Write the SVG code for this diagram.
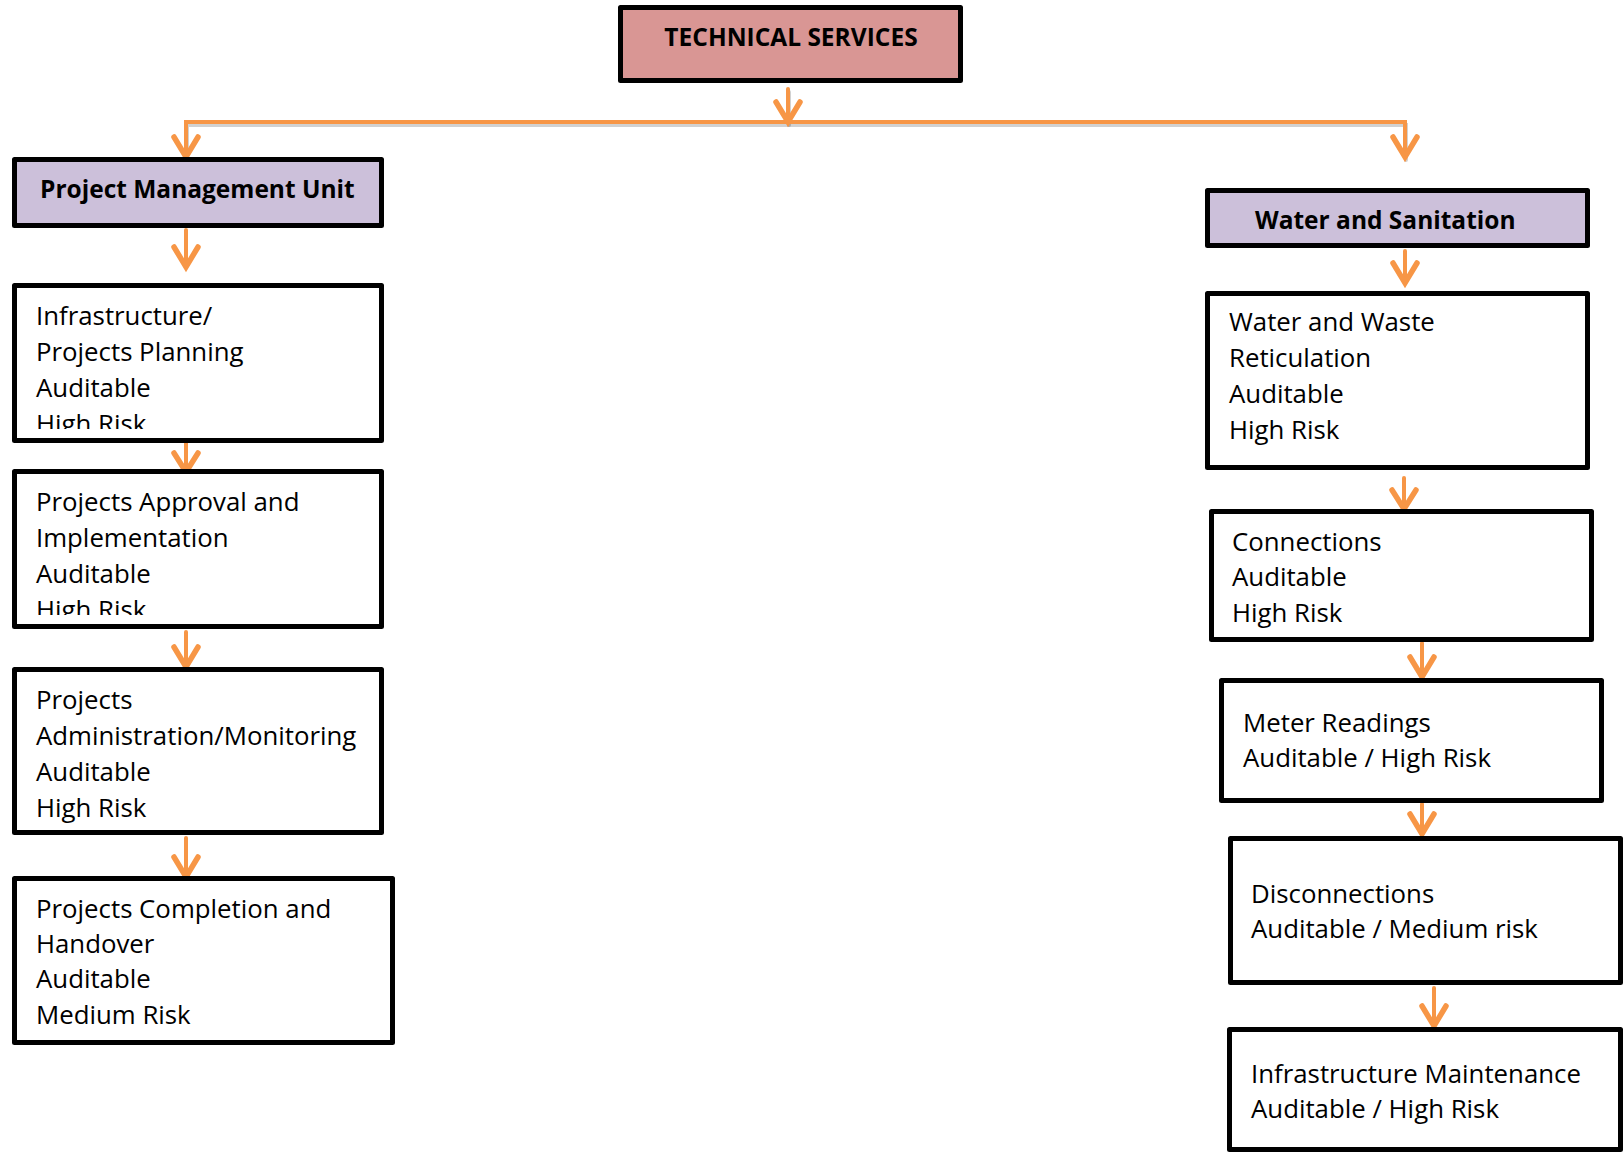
<svg xmlns="http://www.w3.org/2000/svg" width="1624" height="1152" viewBox="0 0 1624 1152">
<style>
.box{fill:#fff;stroke:#000;stroke-width:5;stroke-linejoin:round}
.head{fill:#CCC0DA;stroke:#000;stroke-width:5;stroke-linejoin:round}
.top{fill:#D99694;stroke:#000;stroke-width:5;stroke-linejoin:round}
.t{font-family:"Open Sans","Liberation Sans",sans-serif;font-size:25.8px;fill:#000}
.b{font-family:"Open Sans","Liberation Sans",sans-serif;font-size:24.5px;font-weight:bold;fill:#000}
.ln{fill:none;stroke:#F79646;stroke-width:4;stroke-linecap:round;stroke-linejoin:miter}
.ah{fill:none;stroke:#F79646;stroke-width:5.5;stroke-linecap:round;stroke-linejoin:miter}
.sh{fill:none;stroke:#000;stroke-opacity:0.18;stroke-width:4;stroke-linecap:round}
</style>
<defs>
<clipPath id="c1"><rect x="14" y="285" width="368" height="144"/></clipPath>
<clipPath id="c2"><rect x="14" y="471" width="368" height="144"/></clipPath>
</defs>
<g id="connectors">
<g transform="translate(1,3)">
<path class="sh" d="M186,157 V122 H1405 V157"/>
<path class="sh" d="M788,89 V122"/>
</g>
<path class="ln" d="M186,157 V122 H1405 V157"/>
<path class="ln" d="M788,89 V122"/>
<path class="ah" d="M776,102 L788,122 L800,102"/>
<path class="ah" d="M174,137 L186,157 L198,137"/>
<path class="ah" d="M1393,137 L1405,157 L1417,137"/>
<path class="ln" d="M186,230 V267"/><path class="ah" d="M174,247 L186,267 L198,247"/>
<path class="ln" d="M186,443 V472"/><path class="ah" d="M174,453 L186,472 L198,453"/>
<path class="ln" d="M186,632 V667"/><path class="ah" d="M174,647 L186,667 L198,647"/>
<path class="ln" d="M186,838 V877"/><path class="ah" d="M174,857 L186,877 L198,857"/>
<path class="ln" d="M1405,251 V283"/><path class="ah" d="M1393,263 L1405,283 L1417,263"/>
<path class="ln" d="M1404,478 V509"/><path class="ah" d="M1392,490 L1404,509 L1416,490"/>
<path class="ln" d="M1422,643 V677"/><path class="ah" d="M1410,657 L1422,677 L1434,657"/>
<path class="ln" d="M1422,804 V834"/><path class="ah" d="M1410,814 L1422,834 L1434,814"/>
<path class="ln" d="M1434,988 V1026"/><path class="ah" d="M1422,1006 L1434,1026 L1446,1006"/>
</g>
<g id="technical-services">
<rect class="top" x="620.5" y="7.5" width="340" height="73"/>
<text class="b" x="791" y="46" text-anchor="middle" font-size="23.5">TECHNICAL SERVICES</text>
</g>
<g id="pmu">
<rect class="head" x="14.5" y="159.5" width="367" height="66"/>
<text class="b" x="40" y="198">Project Management Unit</text>
</g>
<g id="pmu-1">
<rect class="box" x="14.5" y="285.5" width="367" height="155"/>
<g clip-path="url(#c1)">
<text class="t" x="36" y="325">Infrastructure/</text>
<text class="t" x="36" y="361">Projects Planning</text>
<text class="t" x="36" y="397">Auditable</text>
<text class="t" x="36" y="433">High Risk</text>
</g>
</g>
<g id="pmu-2">
<rect class="box" x="14.5" y="471.5" width="367" height="155"/>
<g clip-path="url(#c2)">
<text class="t" x="36" y="511">Projects Approval and</text>
<text class="t" x="36" y="547">Implementation</text>
<text class="t" x="36" y="583">Auditable</text>
<text class="t" x="36" y="619">High Risk</text>
</g>
</g>
<g id="pmu-3">
<rect class="box" x="14.5" y="669.5" width="367" height="163"/>
<text class="t" x="36" y="709">Projects</text>
<text class="t" x="36" y="745">Administration/Monitoring</text>
<text class="t" x="36" y="781">Auditable</text>
<text class="t" x="36" y="817">High Risk</text>
</g>
<g id="pmu-4">
<rect class="box" x="14.5" y="878.5" width="378" height="164"/>
<text class="t" x="36" y="918">Projects Completion and</text>
<text class="t" x="36" y="953">Handover</text>
<text class="t" x="36" y="988">Auditable</text>
<text class="t" x="36" y="1024">Medium Risk</text>
</g>
<g id="water-sanitation">
<rect class="head" x="1207.5" y="190.5" width="380" height="55"/>
<text class="b" x="1255" y="229">Water and Sanitation</text>
</g>
<g id="ws-1">
<rect class="box" x="1207.5" y="293.5" width="380" height="174"/>
<text class="t" x="1229" y="331">Water and Waste</text>
<text class="t" x="1229" y="367">Reticulation</text>
<text class="t" x="1229" y="403">Auditable</text>
<text class="t" x="1229" y="439">High Risk</text>
</g>
<g id="ws-2">
<rect class="box" x="1211.5" y="511.5" width="380" height="128"/>
<text class="t" x="1232" y="551">Connections</text>
<text class="t" x="1232" y="586">Auditable</text>
<text class="t" x="1232" y="622">High Risk</text>
</g>
<g id="ws-3">
<rect class="box" x="1221.5" y="680.5" width="380" height="120"/>
<text class="t" x="1243" y="732">Meter Readings</text>
<text class="t" x="1243" y="767">Auditable / High Risk</text>
</g>
<g id="ws-4">
<rect class="box" x="1230.5" y="838.5" width="390" height="144"/>
<text class="t" x="1251" y="903">Disconnections</text>
<text class="t" x="1251" y="938">Auditable / Medium risk</text>
</g>
<g id="ws-5">
<rect class="box" x="1229.5" y="1029.5" width="391" height="120"/>
<text class="t" x="1251" y="1083">Infrastructure Maintenance</text>
<text class="t" x="1251" y="1118">Auditable / High Risk</text>
</g>
</svg>
